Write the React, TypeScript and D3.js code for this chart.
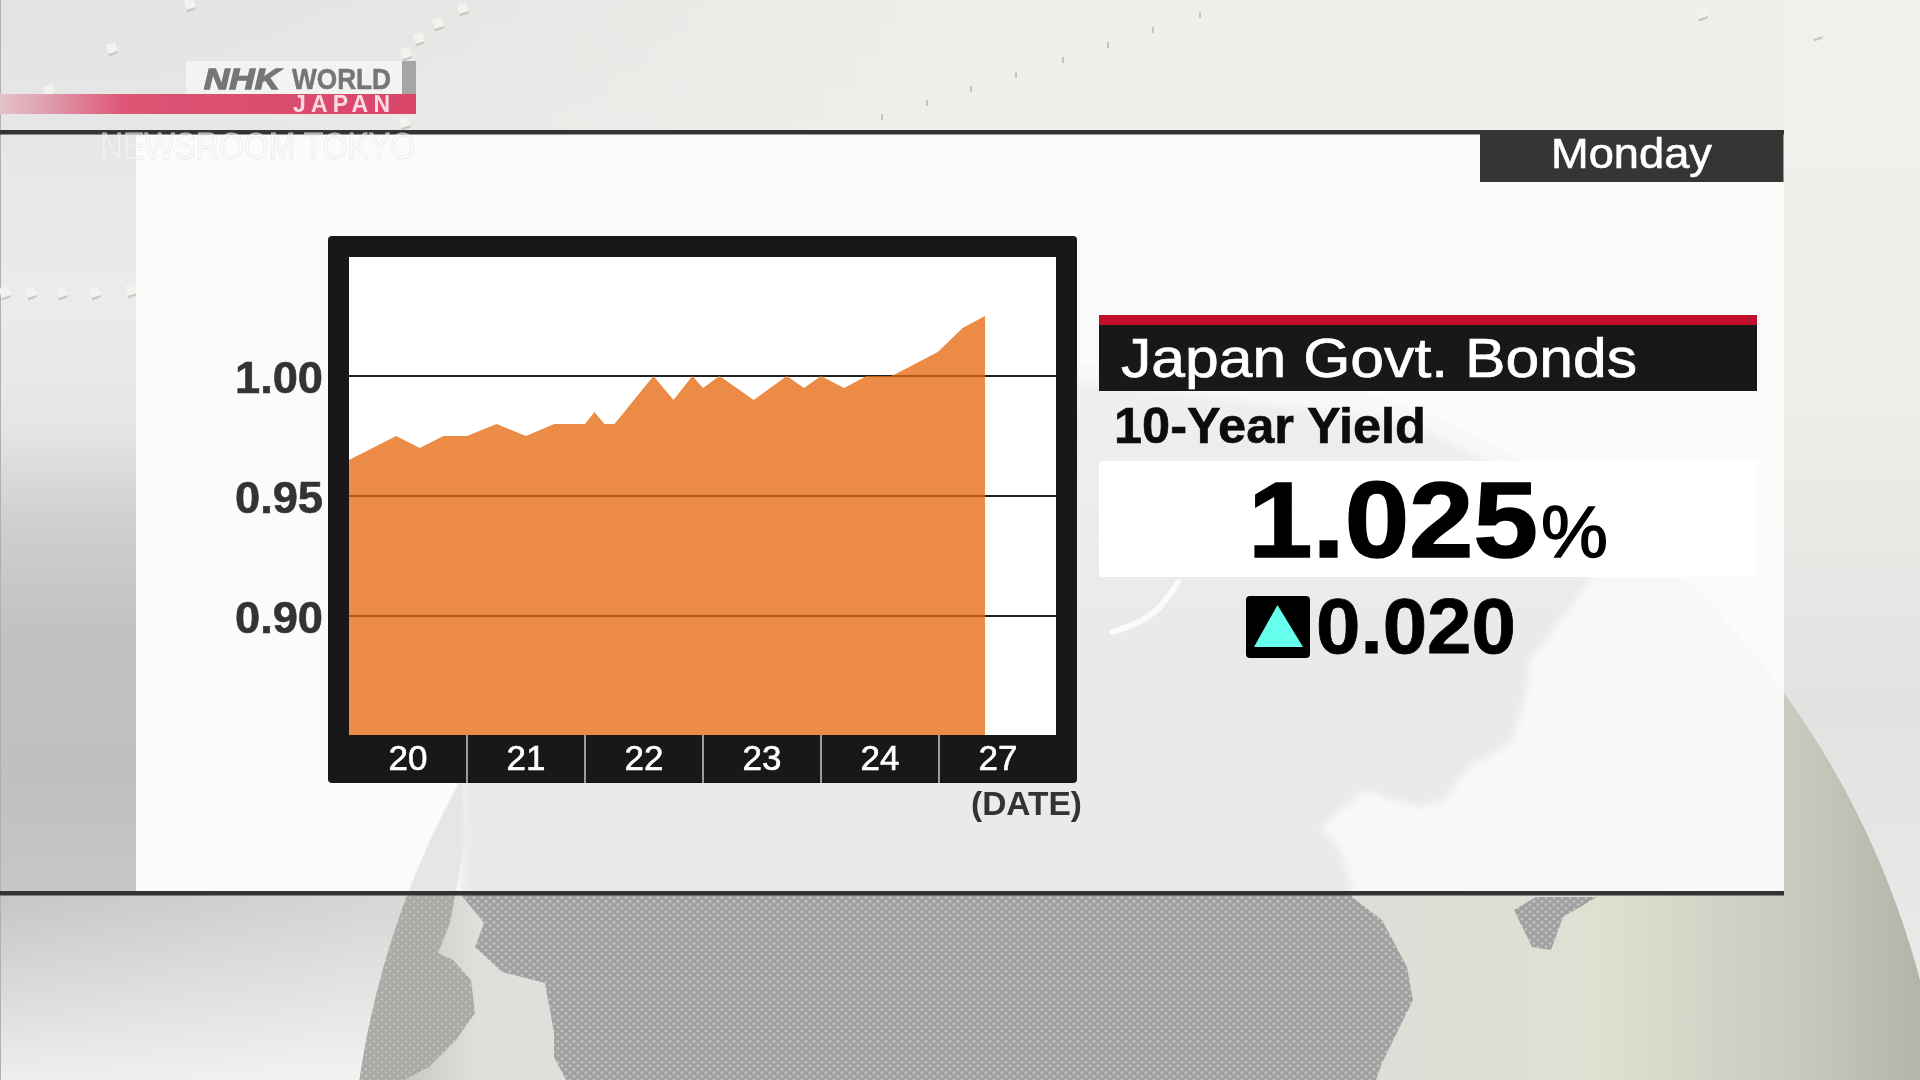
import React from "react";
import * as d3 from "d3";

// ---- chart data ----
const dateLabels = ["20", "21", "22", "23", "24", "27"];
const yTicks = [1.0, 0.95, 0.9];
// position in "sessions" (one band per date label) and the 10-year yield (%)
const sessionPos = [0, 0.4, 0.6, 0.8, 1.0, 1.25, 1.5, 1.74, 2.0, 2.08, 2.165, 2.25, 2.58, 2.75, 2.91, 3.0, 3.14, 3.43, 3.71, 3.856, 4.0, 4.195, 4.387, 4.6, 4.99, 5.2, 5.39];
const yields = [0.965, 0.975, 0.97, 0.975, 0.975, 0.98, 0.975, 0.98, 0.98, 0.985, 0.98, 0.98, 1.0, 0.99, 1.0, 0.995, 1.0, 0.99, 1.0, 0.995, 1.0, 0.995, 1.0, 1.0, 1.01, 1.02, 1.025];

const FONT = "'Liberation Sans', Arial, sans-serif";

// ---- layout ----
const plot = { left: 349, right: 1057, top: 257, bottom: 735 };
const frame = { left: 328, right: 1077, top: 236, bottom: 783 };
const x = d3.scaleLinear().domain([0, dateLabels.length]).range([plot.left, plot.right]);
const y = d3.scaleLinear().domain([0.9, 1.0]).range([616, 376]);

const points = sessionPos.map((p, i) => ({ p, v: yields[i] }));
const areaPath = d3
  .area<{ p: number; v: number }>()
  .x((d) => x(d.p))
  .y0(plot.bottom)
  .y1((d) => y(d.v))(points) as string;

// ---- backdrop shapes ----
const oceanPts: [number, number][] = [
  [462, 640], [700, 400], [1000, 380], [1100, 385], [1400, 420], [1490, 462], [1590, 580], [1530, 660], [1525, 697], [1511, 743],
  [1468, 767], [1444, 800], [1419, 807], [1364, 790], [1321, 827], [1340, 850], [1352, 887], [1352, 897], [1382, 920], [1407, 967],
  [1413, 1000], [1382, 1063], [1376, 1080], [566, 1080], [554, 1057], [554, 1033], [545, 983], [502, 972], [475, 947], [484, 923], [462, 896],
];
const stripPts: [number, number][] = [
  [340, 780], [462, 780], [465, 840], [450, 923], [438, 953], [453, 960], [471, 980], [475, 1013], [456, 1040], [429, 1067], [404, 1080], [340, 1080],
];
const islandPts: [number, number][] = [
  [1514, 910], [1536, 897], [1597, 897], [1563, 917], [1551, 950], [1532, 947],
];
const streakPts: [number, number][] = [
  [1112, 632], [1135, 625], [1160, 610], [1178, 582],
];
const polyLine = d3.line();
const oceanPath = polyLine(oceanPts) + "Z";
const stripPath = polyLine(stripPts) + "Z";
const islandPath = polyLine(islandPts) + "Z";
const streakPath = polyLine.curve(d3.curveBasis)(streakPts) as string;

const paleCubes = [[190, 4], [112, 48], [49, 90], [463, 8], [438, 23], [419, 38], [406, 53], [405, 122], [1702, 13], [1817, 33], [5, 292], [31, 292], [62, 292], [95, 292], [131, 290]];
const tinyMarks = [[1200, 15], [1153, 30], [1108, 45], [1063, 60], [1016, 75], [971, 89], [927, 103], [882, 117]];

function Cube({ cx, cy, s }: { cx: number; cy: number; s: number }) {
  return (
    <g>
      <path d={`M${cx - s} ${cy - s * 0.6}L${cx + s * 0.5} ${cy - s}L${cx + s} ${cy + s * 0.5}L${cx - s * 0.6} ${cy + s}Z`} fill="#f2f2ee" />
      <path d={`M${cx - s * 0.6} ${cy + s}L${cx + s} ${cy + s * 0.5}L${cx + s * 0.9} ${cy + s * 0.9}L${cx - s * 0.5} ${cy + s * 1.4}Z`} fill="#c9c9c4" />
    </g>
  );
}

export default function App() {
  return (
    <svg width={1920} height={1080} viewBox="0 0 1920 1080" style={{ position: "fixed", left: 0, top: 0, display: "block" }} fontFamily={FONT}>
      <defs>
        <linearGradient id="bgV" x1="0" y1="0" x2="0" y2="1">
          <stop offset="0" stopColor="#e2e3e2" />
          <stop offset="0.28" stopColor="#ebebeb" />
          <stop offset="0.39" stopColor="#e6e6e6" />
          <stop offset="0.48" stopColor="#d0d0d0" />
          <stop offset="0.58" stopColor="#c2c2c2" />
          <stop offset="0.72" stopColor="#bfbfbf" />
          <stop offset="0.84" stopColor="#c8c8c8" />
          <stop offset="1" stopColor="#eeeeee" />
        </linearGradient>
        <linearGradient id="bgH" gradientUnits="userSpaceOnUse" x1="136" y1="0" x2="1100" y2="0">
          <stop offset="0" stopColor="#f1f1ec" stopOpacity="0" />
          <stop offset="1" stopColor="#f0f0eb" stopOpacity="0.95" />
        </linearGradient>
        <linearGradient id="bgLow" gradientUnits="userSpaceOnUse" x1="0" y1="0" x2="420" y2="0">
          <stop offset="0" stopColor="#ffffff" stopOpacity="0" />
          <stop offset="1" stopColor="#ffffff" stopOpacity="0.3" />
        </linearGradient>
        <linearGradient id="rightBand" x1="0" y1="0" x2="0" y2="1">
          <stop offset="0" stopColor="#f1f1ec" />
          <stop offset="0.35" stopColor="#eeeeea" />
          <stop offset="0.65" stopColor="#e2e3e1" />
          <stop offset="1" stopColor="#ececea" />
        </linearGradient>
        <linearGradient id="globeFill" gradientUnits="userSpaceOnUse" x1="350" y1="0" x2="1950" y2="0">
          <stop offset="0" stopColor="#b8bab3" />
          <stop offset="0.08" stopColor="#dfdfdb" />
          <stop offset="0.65" stopColor="#dedeD8" />
          <stop offset="0.78" stopColor="#dfdfd2" />
          <stop offset="0.9" stopColor="#cacabe" />
          <stop offset="0.98" stopColor="#b4b5aa" />
          <stop offset="1" stopColor="#cfcfc8" />
        </linearGradient>
        <linearGradient id="logoBar" x1="0" y1="0" x2="1" y2="0">
          <stop offset="0" stopColor="#e3c2ca" />
          <stop offset="0.1" stopColor="#e0a3b2" />
          <stop offset="0.3" stopColor="#dd5475" />
          <stop offset="1" stopColor="#d9466a" />
        </linearGradient>
        <linearGradient id="oceanFade" gradientUnits="userSpaceOnUse" x1="0" y1="380" x2="0" y2="620">
          <stop offset="0" stopColor="#fff" stopOpacity="0.65" />
          <stop offset="1" stopColor="#fff" stopOpacity="1" />
        </linearGradient>
        <mask id="oceanMask" maskUnits="userSpaceOnUse" x="0" y="0" width="1920" height="1080">
          <rect x={0} y={0} width={1920} height={1080} fill="url(#oceanFade)" />
        </mask>
        <filter id="soft" x="-5%" y="-5%" width="110%" height="110%">
          <feGaussianBlur stdDeviation="3.5" />
        </filter>
        <pattern id="dotsOut" width="8" height="7" patternUnits="userSpaceOnUse">
          <rect width="8" height="7" fill="#a0a0a0" />
          <circle cx="2" cy="1.7" r="1.5" fill="#c0c0c0" />
          <circle cx="6" cy="5.2" r="1.5" fill="#c0c0c0" />
        </pattern>
        <pattern id="dotsStrip" width="8" height="7" patternUnits="userSpaceOnUse">
          <rect width="8" height="7" fill="#a9aba5" />
          <circle cx="2" cy="1.7" r="1.2" fill="#bfc1ba" />
          <circle cx="6" cy="5.2" r="1.2" fill="#bfc1ba" />
        </pattern>
        <pattern id="dotsIn" width="8" height="7" patternUnits="userSpaceOnUse">
          <rect width="8" height="7" fill="#e8e8e8" />
          <circle cx="2" cy="1.7" r="1.5" fill="#eeeeee" />
          <circle cx="6" cy="5.2" r="1.5" fill="#eeeeee" />
        </pattern>
        <clipPath id="globeClip"><ellipse cx={1150} cy={1210} rx={800} ry={848} /></clipPath>
        <clipPath id="panelClip"><rect x={136} y={134} width={1648} height={757} /></clipPath>
        <clipPath id="areaClip"><path d={areaPath} /></clipPath>
      </defs>

      {/* backdrop */}
      <rect x={0} y={0} width={1920} height={1080} fill="url(#bgV)" />
      <rect x={136} y={0} width={1784} height={134} fill="url(#bgH)" />
      <rect x={1784} y={0} width={136} height={1080} fill="url(#rightBand)" />
      <rect x={0} y={895} width={420} height={185} fill="url(#bgLow)" />
      <rect x={0} y={0} width={1} height={1080} fill="#b0b0b0" />
      {paleCubes.map(([cx, cy], i) => <Cube key={i} cx={cx} cy={cy} s={6} />)}
      {tinyMarks.map(([cx, cy], i) => <rect key={i} x={cx - 1} y={cy - 3} width={2} height={6} fill="#c4c4bf" />)}

      {/* globe */}
      <ellipse cx={1150} cy={1210} rx={800} ry={848} fill="url(#globeFill)" />
      <g clipPath="url(#globeClip)">
        <path d={stripPath} fill="url(#dotsStrip)" />
        <path d={oceanPath} fill="url(#dotsOut)" />
        <path d={islandPath} fill="url(#dotsOut)" />
      </g>

      {/* panel */}
      <rect x={136} y={134} width={1648} height={757} fill="#fbfbf9" />
      <g clipPath="url(#panelClip)">
        <ellipse cx={1150} cy={1210} rx={800} ry={848} fill="#f8f8f6" />
        <g clipPath="url(#globeClip)" mask="url(#oceanMask)">
          <path d={stripPath} fill="#e6e7e4" />
          <path d={oceanPath} fill="url(#dotsIn)" filter="url(#soft)" />
        </g>
        <path d={streakPath} fill="none" stroke="#fbfbf9" strokeWidth={6} strokeLinecap="round" />
      </g>
      <rect x={0} y={130} width={1784} height={4.5} fill="#333" />
      <rect x={0} y={891} width={1784} height={4.5} fill="#333" />

      {/* chart frame */}
      <rect x={frame.left} y={frame.top} width={frame.right - frame.left} height={frame.bottom - frame.top} rx={4} fill="#181818" />
      <rect x={plot.left} y={plot.top} width={plot.right - 1 - plot.left} height={plot.bottom - plot.top} fill="#ffffff" />
      {yTicks.map((t) => (
        <line key={t} x1={plot.left} x2={plot.right - 1} y1={y(t)} y2={y(t)} stroke="#222" strokeWidth={2} />
      ))}
      <path d={areaPath} fill="#eb8b45" />
      <g clipPath="url(#areaClip)">
        {yTicks.map((t) => (
          <line key={t} x1={plot.left} x2={plot.right - 1} y1={y(t)} y2={y(t)} stroke="#b25a12" strokeWidth={2} />
        ))}
      </g>
      {yTicks.map((t) => (
        <text key={t} x={235} y={y(t) + 17} fontSize={45} fontWeight={700} fill="#333" stroke="#333" strokeWidth={0.6} textLength={88} lengthAdjust="spacingAndGlyphs">{t.toFixed(2)}</text>
      ))}
      {dateLabels.map((d, i) => (
        <g key={d}>
          {i > 0 && <line x1={x(i)} x2={x(i)} y1={plot.bottom} y2={frame.bottom} stroke="#c8c8c8" strokeWidth={1.5} />}
          <text x={x(i + 0.5)} y={770} textAnchor="middle" fontSize={35} fill="#fff" stroke="#fff" strokeWidth={0.6}>{d}</text>
        </g>
      ))}
      <text x={971} y={815} fontSize={33} fontWeight={700} fill="#333" textLength={111} lengthAdjust="spacingAndGlyphs">(DATE)</text>

      {/* day tag */}
      <rect x={1480} y={130} width={303.5} height={52} fill="#353535" />
      <text x={1551} y={168} fontSize={42} fill="#fff" stroke="#fff" strokeWidth={0.6} textLength={161} lengthAdjust="spacingAndGlyphs">Monday</text>

      {/* read-out */}
      <rect x={1099} y={325} width={658} height={66} fill="#181818" />
      <rect x={1099} y={315} width={658} height={10} fill="#c30f2e" />
      <text x={1121} y={377} fontSize={56} fill="#fff" stroke="#fff" strokeWidth={0.7} textLength={516} lengthAdjust="spacingAndGlyphs">Japan Govt. Bonds</text>
      <text x={1114} y={443} fontSize={50} fontWeight={700} fill="#0c0c0c" stroke="#0c0c0c" strokeWidth={0.6} textLength={312} lengthAdjust="spacingAndGlyphs">10-Year Yield</text>
      <rect x={1099} y={461} width={658} height={116} rx={3} fill="#ffffff" />
      <text x={1248} y={557} fontSize={108} fontWeight={700} fill="#000" stroke="#000" strokeWidth={1.6} textLength={290} lengthAdjust="spacingAndGlyphs">1.025</text>
      <text x={1541} y={557} fontSize={72} fill="#000" stroke="#000" strokeWidth={1.4} textLength={67} lengthAdjust="spacingAndGlyphs">%</text>
      <rect x={1246} y={596} width={64} height={62} rx={4} fill="#000" />
      <path d={d3.line()([[1277.5, 605], [1303, 647], [1254, 647]]) + "Z"} fill="#66ffee" />
      <text x={1316} y={653} fontSize={78} fontWeight={700} fill="#000" stroke="#000" strokeWidth={0.8} textLength={200} lengthAdjust="spacingAndGlyphs">0.020</text>

      {/* broadcaster mark */}
      <rect x={186} y={61} width={216} height={33} fill="#f3f3f2" />
      <rect x={402} y={61} width={14} height={33} fill="#a5a5a5" />
      <rect x={0} y={94} width={416} height={20} fill="url(#logoBar)" />
      <text x={204} y={89} fontSize={30} fontWeight={700} fontStyle="italic" fill="#767676" stroke="#767676" strokeWidth={1.4} textLength={76} lengthAdjust="spacingAndGlyphs">NHK</text>
      <text x={292} y={89} fontSize={30} fontWeight={700} fill="#767676" stroke="#767676" strokeWidth={0.5} textLength={99} lengthAdjust="spacingAndGlyphs">WORLD</text>
      <text x={293} y={112} fontSize={23} fontWeight={700} fill="#fbdbe3" textLength={97}>JAPAN</text>
      <text x={100} y={159} fontSize={37} fill="#ffffff" fillOpacity={0.4} stroke="#e4e4e4" strokeOpacity={0.8} strokeWidth={0.8} textLength={315} lengthAdjust="spacingAndGlyphs">NEWSROOM TOKYO</text>
    </svg>
  );
}
